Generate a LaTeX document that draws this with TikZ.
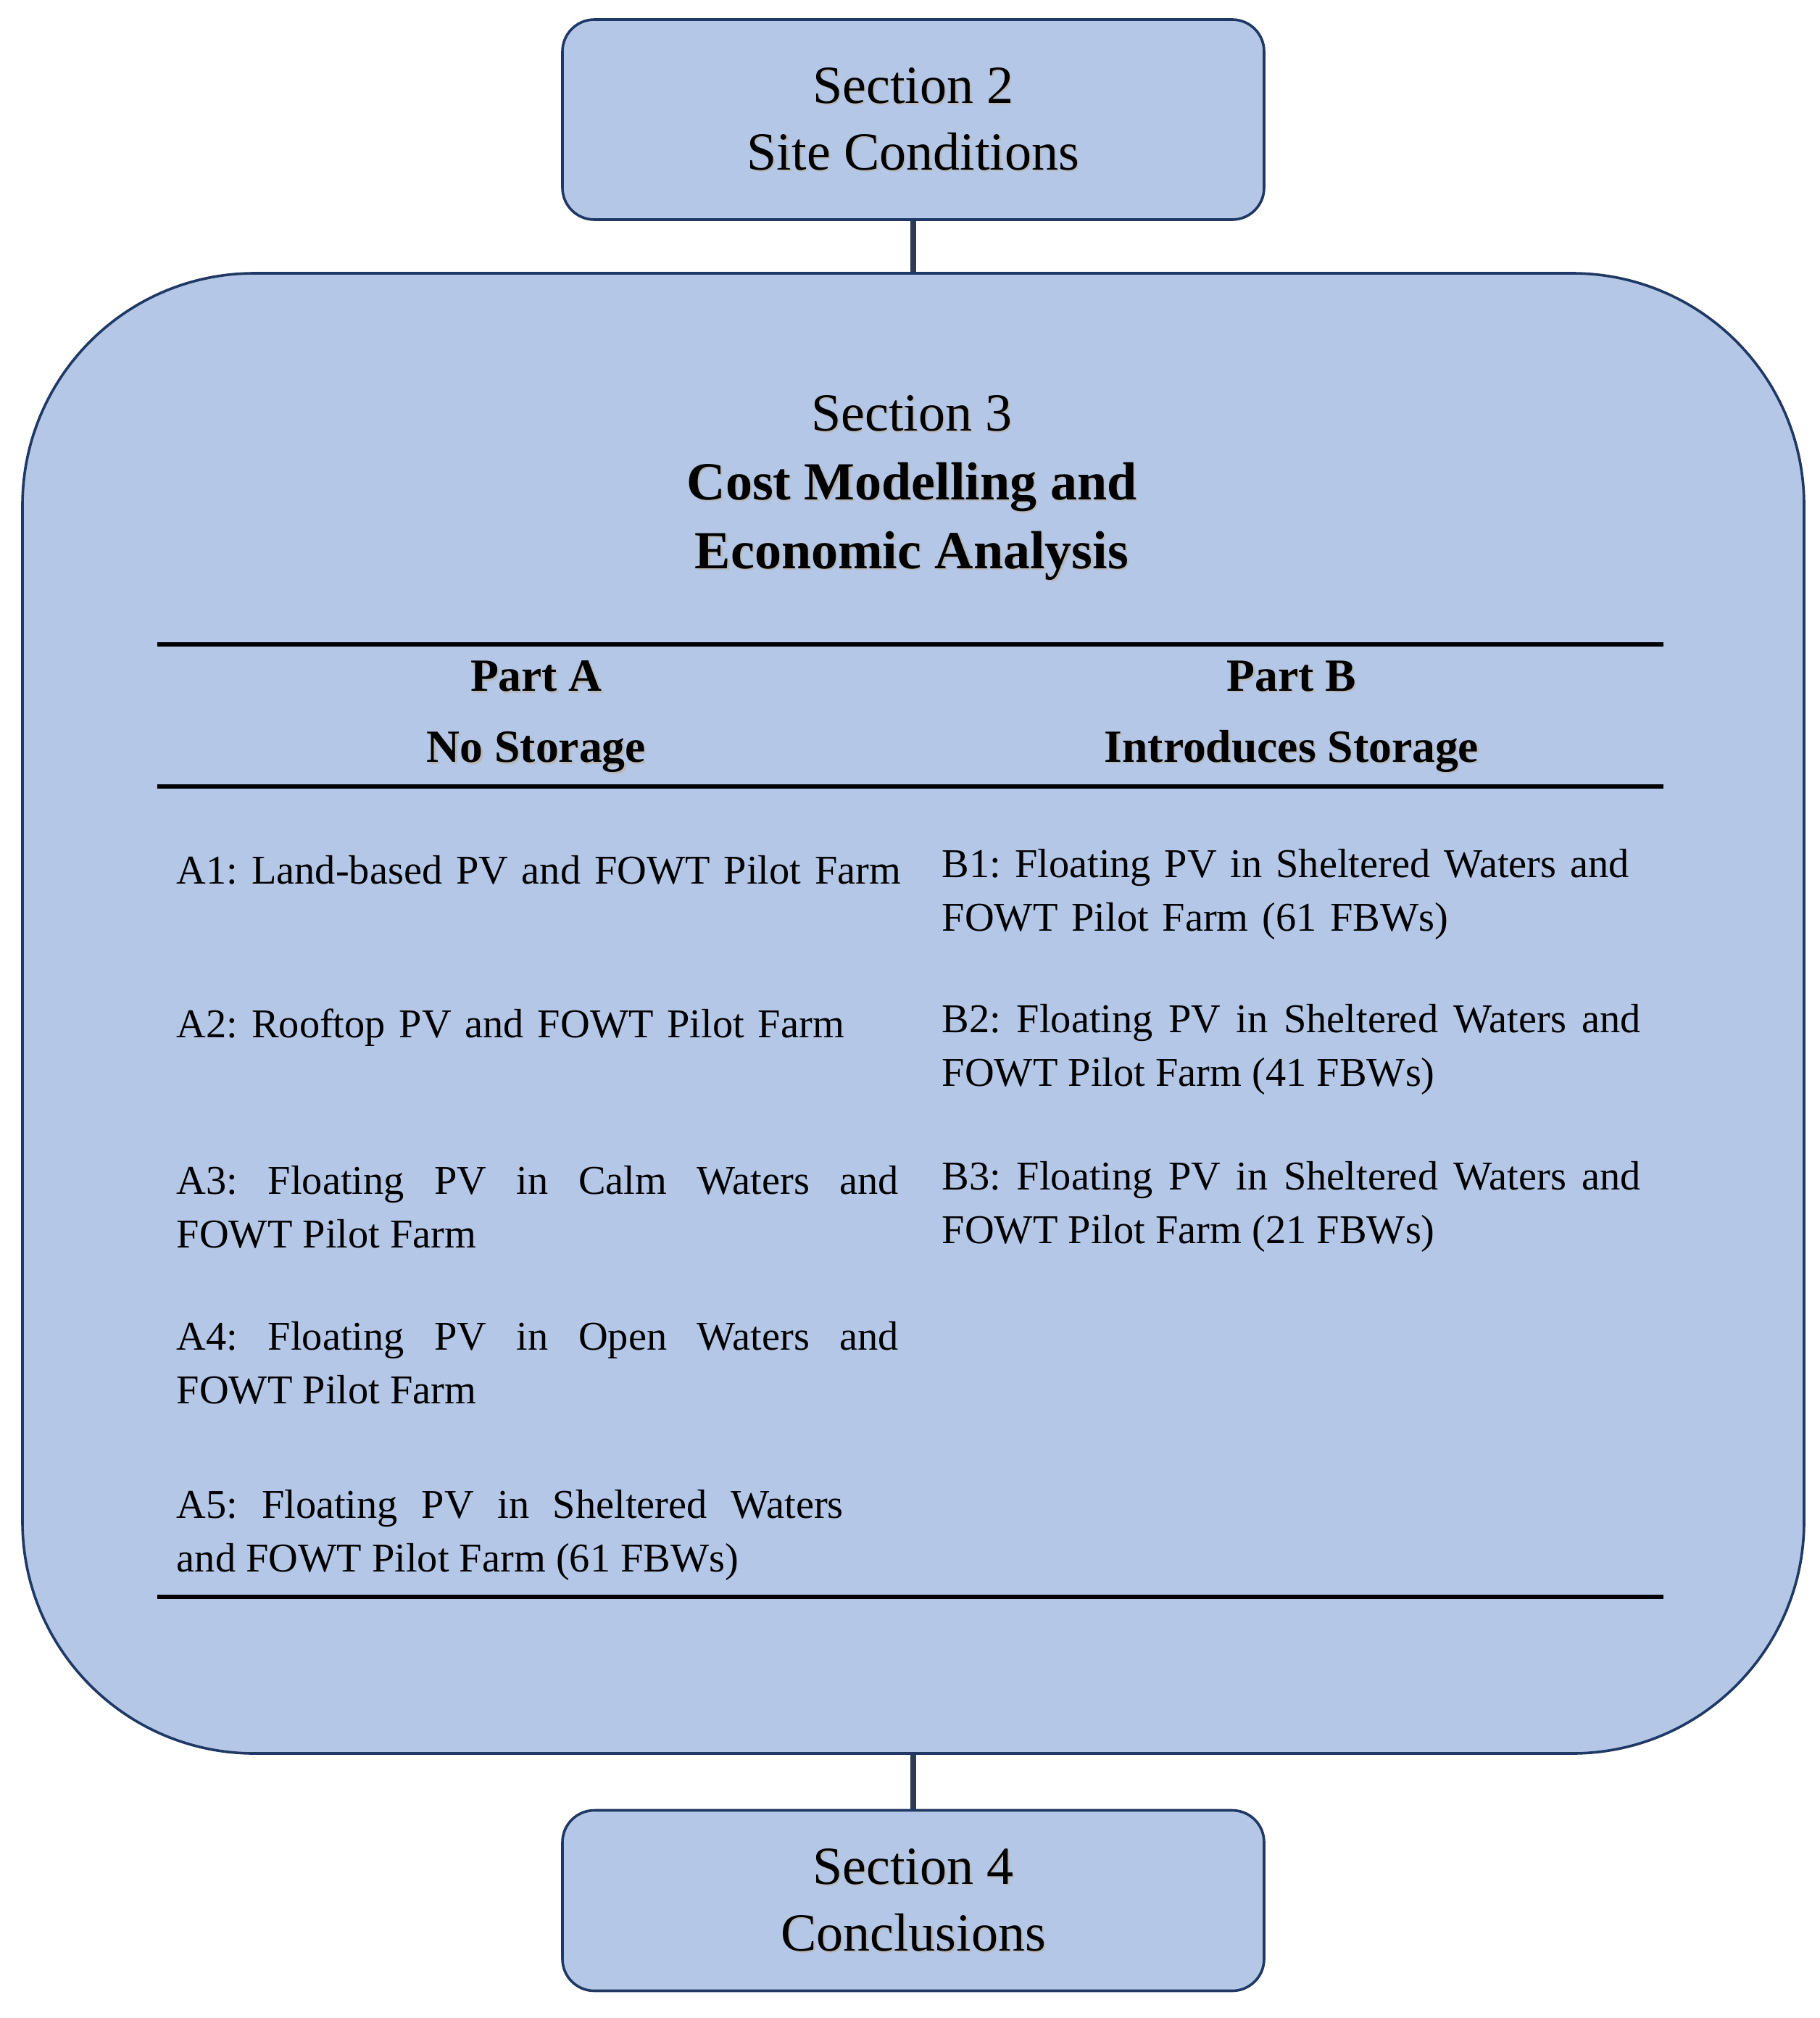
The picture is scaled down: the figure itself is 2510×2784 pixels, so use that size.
\documentclass[tikz,border=0pt]{standalone}
\usepackage{fontspec}
\setmainfont{Liberation Serif}
\definecolor{boxfill}{HTML}{B4C7E7}
\definecolor{boxedge}{HTML}{1F3864}
\definecolor{linkcol}{HTML}{2E3B52}
\newcommand\shd[1]{\leavevmode\rlap{\hspace{0.55pt}\raisebox{-0.55pt}{\textcolor{black!28}{#1}}}#1}
\frenchspacing
\begin{document}
\frenchspacing
\begin{tikzpicture}[x=0.25pt,y=-0.25pt,
  secbox/.style={draw=boxedge, line width=0.9pt, fill=boxfill, rounded corners=11pt,
     minimum width=242pt, minimum height=69pt, inner sep=0pt, align=center,
     font=\fontsize{18.5}{23}\selectfont\frenchspacing},
  bigbox/.style={draw=boxedge, line width=0.9pt, fill=boxfill, rounded corners=80pt,
     minimum width=614.5pt, minimum height=510.5pt, inner sep=0pt},
  link/.style={draw=linkcol, line width=2pt},
  rulel/.style={draw=black, line width=1.3pt},
  title/.style={inner sep=0pt, align=center, font=\fontsize{18.5}{23.75}\selectfont\frenchspacing},
  head/.style={inner sep=0pt, align=center, font=\fontsize{15.9}{24.5}\selectfont\bfseries\frenchspacing},
  body/.style={inner sep=0pt, anchor=west, font=\fontsize{14.1}{18.5}\selectfont\frenchspacing},
  ]
\path[use as bounding box] (0,0) rectangle (2510,2784);

% boxes
\node[secbox] (s2) at (1260,165) {\shd{Section 2}\\\shd{Site Conditions}};
\node[bigbox] (s3) at (1260,1398) {};
\node[secbox, minimum height=62.25pt] (s4) at (1260,2622) {\shd{Section 4}\\\shd{Conclusions}};

% connectors
\draw[link] (s2.south) -- (s3.north);
\draw[link] (s3.south) -- (s4.north);

% section 3 title
\node[title] (t3) at (1258,674) {\shd{Section 3}\\\shd{\textbf{Cost Modelling and}}\\\shd{\textbf{Economic Analysis}}};

% table rules
\coordinate (r1l) at (217,889);  \coordinate (r1r) at (2295,889);
\coordinate (r2l) at (217,1085); \coordinate (r2r) at (2295,1085);
\coordinate (r3l) at (217,2203); \coordinate (r3r) at (2295,2203);
\draw[rulel] (r1l) -- (r1r);
\draw[rulel] (r2l) -- (r2r);
\draw[rulel] (r3l) -- (r3r);

% headers
\node[head] (pa) at (740,990) {\shd{Part A}\\\shd{No Storage}};
\node[head] (pb) at (1782,990) {\shd{Part B}\\\shd{Introduces Storage}};

% column A
\node[body, text width=252pt, align=left] (a1) at (243,1200) {A1: Land-based PV and FOWT Pilot Farm};
\node[body, text width=252pt, align=left] (a2) at (243,1418) {A2: Rooftop PV and FOWT Pilot Farm};
\node[body, text width=249pt, align=justify] (a3) at (243,1665) {A3: Floating PV in Calm Waters and\linebreak FOWT Pilot Farm};
\node[body, text width=249pt, align=justify] (a4) at (243,1880) {A4: Floating PV in Open Waters and\linebreak FOWT Pilot Farm};
\node[body, text width=230pt, align=justify] (a5) at (243,2118) {A5: Floating PV in Sheltered Waters\linebreak and FOWT Pilot Farm (61 FBWs)};

% column B
\node[body, text width=250pt, align=left] (b1) at (1299,1234) {B1: Floating PV in Sheltered Waters and\\FOWT Pilot Farm (61 FBWs)};
\node[body, text width=241pt, align=justify] (b2) at (1299,1448) {B2: Floating PV in Sheltered Waters and\linebreak FOWT Pilot Farm (41 FBWs)};
\node[body, text width=241pt, align=justify] (b3) at (1299,1665) {B3: Floating PV in Sheltered Waters and\linebreak FOWT Pilot Farm (21 FBWs)};
\end{tikzpicture}
\end{document}
